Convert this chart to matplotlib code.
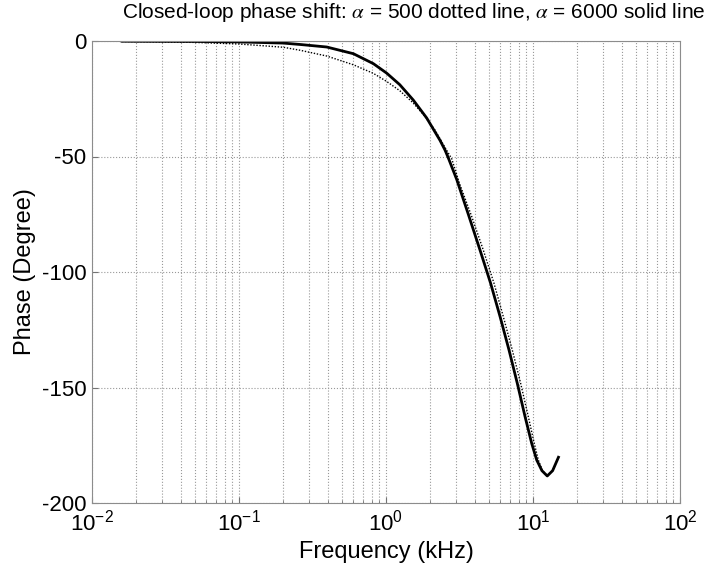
import matplotlib
matplotlib.use("Agg")
import matplotlib.pyplot as plt
from matplotlib.ticker import LogLocator, NullFormatter, FixedLocator, FixedFormatter

# alpha = 6000 (solid)
f_solid = [0.016, 0.05, 0.1, 0.2, 0.26, 0.395, 0.6, 0.82, 1.01, 1.24, 1.53, 1.89,
           2.33, 2.52, 2.65, 3.03, 3.63, 4.36, 5.15, 5.97, 6.87, 7.82, 8.83, 9.8,
           10.6, 11.5, 12.5, 13.6, 14.9]
p_solid = [-0.1, -0.2, -0.4, -0.9, -1.5, -2.6, -5.5, -9.8, -13.9, -18.9, -25.5, -33.3,
           -43, -47.2, -50.5, -60, -75, -90.5, -104.9, -119.3, -133.8, -148.2, -162.6,
           -174.2, -181.4, -186, -188.3, -186, -180.2]

# alpha = 500 (dotted)
f_dot = [0.016, 0.05, 0.1, 0.2, 0.26, 0.395, 0.6, 0.82, 1.01, 1.24, 1.53, 1.8,
         2.15, 2.58, 2.8, 3.16, 3.83, 4.59, 5.43, 6.28, 7.23, 8.24, 9.29, 10.2,
         10.87, 11.6, 12.5, 13.6, 14.9]
p_dot = [-0.2, -0.6, -1.3, -2.7, -4, -6.5, -10.3, -14, -17.5, -21.5, -26.8, -31.9,
         -38.5, -47.2, -51, -61.6, -76, -90.5, -104.9, -119.3, -133.8, -148.2, -162.6,
         -174.2, -181.4, -186, -188.3, -186, -180.2]

x_ticks = [1e-2, 1e-1, 1e0, 1e1, 1e2]
x_labels = [r"$\mathregular{10^{-2}}$", r"$\mathregular{10^{-1}}$",
            r"$\mathregular{10^{0}}$", r"$\mathregular{10^{1}}$", r"$\mathregular{10^{2}}$"]
y_ticks = [-200, -150, -100, -50, 0]

plt.rcParams['font.family'] = ['Liberation Sans', 'DejaVu Sans']
plt.rcParams['mathtext.fontset'] = 'stix'
plt.rcParams['axes.unicode_minus'] = False

fig = plt.figure(figsize=(7.11, 5.72), dpi=100)
ax = fig.add_axes([92 / 711, 69 / 572, 588 / 711, 462 / 572])

ax.semilogx(f_dot, p_dot, color="black", lw=1.0, ls=(0, (1, 1.2)))
ax.semilogx(f_solid, p_solid, color="black", lw=2.0)

ax.set_xlim(1e-2, 1e2)
ax.set_ylim(-200, 0)
ax.xaxis.set_major_locator(FixedLocator(x_ticks))
ax.xaxis.set_major_formatter(FixedFormatter(x_labels))
ax.xaxis.set_minor_locator(LogLocator(base=10, subs=range(2, 10), numticks=20))
ax.xaxis.set_minor_formatter(NullFormatter())
ax.set_yticks(y_ticks)

ax.grid(True, which="both", axis="x", color="0.6", ls=":", lw=0.8)
ax.grid(True, which="major", axis="y", color="0.6", ls=":", lw=0.8)
ax.tick_params(which="both", direction="in", labelsize=16, colors="0.45",
               labelcolor="black")
ax.tick_params(which="major", length=4)
ax.tick_params(which="minor", length=2.5)
ax.tick_params(axis="x", pad=5)
ax.tick_params(axis="y", pad=4)
for s in ax.spines.values():
    s.set_color("0.55")

ax.set_xlabel("Frequency (kHz)", fontsize=17, labelpad=4)
ax.set_ylabel("Phase (Degree)", fontsize=17, labelpad=4)
fig.text(414 / 711, 1 - 13 / 572,
         r"Closed-loop phase shift: $\alpha$ = 500 dotted line, $\alpha$ = 6000 solid line",
         ha="center", va="center", fontsize=15)

fig.savefig("out.png", dpi=100)
